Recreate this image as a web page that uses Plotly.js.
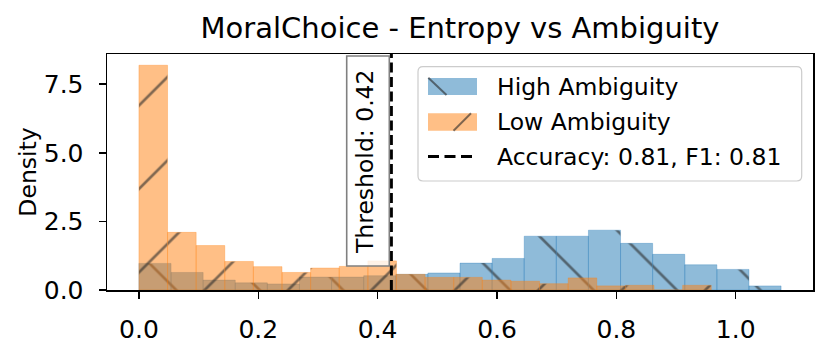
<!DOCTYPE html>
<html>
<head>
<meta charset="utf-8">
<script src="https://cdn.plot.ly/plotly-3.0.1.min.js"></script>
<style>
  html, body { margin: 0; padding: 0; background: #ffffff; }
  #chart { width: 831px; height: 349px; }
</style>
</head>
<body>
<div id="chart"></div>
<script>
// ---------- data ----------
const chartTitle = "MoralChoice - Entropy vs Ambiguity";
const yLabel = "Density";
const seriesNames = ["High Ambiguity", "Low Ambiguity"];
const accuracyLabel = "Accuracy: 0.81, F1: 0.81";
const thresholdLabel = "Threshold: 0.42";
const threshold = 0.423;

// High ambiguity histogram: 20 bins from 0 to 1.076
const highBinMin = 0.0;
const highBinMax = 1.076;
const highDensity = [0.97, 0.64, 0.36, 0.26, 0.22, 0.47, 0.47, 0.52, 0.57, 0.62,
                     0.98, 1.15, 1.96, 1.96, 2.18, 1.70, 1.30, 0.92, 0.75, 0.15];

// Low ambiguity histogram: 20 bins from 0 to 0.959
const lowBinMin = 0.0;
const lowBinMax = 0.959;
const lowDensity = [8.19, 2.10, 1.62, 1.04, 0.85, 0.64, 0.80, 0.86, 1.06, 0.57,
                    0.46, 0.46, 0.36, 0.32, 0.23, 0.44, 0.15, 0.17, 0.00, 0.17];

const xTicks = [0.0, 0.2, 0.4, 0.6, 0.8, 1.0];
const yTicks = [0.0, 2.5, 5.0, 7.5];

// ---------- helpers ----------
function binCenters(min, max, n) {
  const w = (max - min) / n;
  const c = [];
  for (let i = 0; i < n; i++) c.push(min + w * (i + 0.5));
  return { centers: c, width: w };
}
const hb = binCenters(highBinMin, highBinMax, highDensity.length);
const lb = binCenters(lowBinMin, lowBinMax, lowDensity.length);

const FONT = "DejaVu Sans";
const BLUE = "rgba(31,119,180,0.5)";
const ORANGE = "rgba(255,127,14,0.5)";

// pixel -> paper helpers for annotation/legend placement
const ML = 107, MR = 18, MT = 54, MB = 59, W = 831, H = 349;
const PW = W - ML - MR, PH = H - MT - MB;
const px = x => (x - ML) / PW;
const py = y => (H - MB - y) / PH;

const traces = [
  {
    type: "bar",
    x: hb.centers,
    y: highDensity,
    width: hb.width,
    name: seriesNames[0],
    marker: {
      color: BLUE,
      line: { color: BLUE, width: 0.6 },
      pattern: { shape: "\\", size: 59, solidity: 0.045, fgcolor: "#2b2b2b", fgopacity: 0.6, fillmode: "overlay" }
    },
    showlegend: false,
    hoverinfo: "skip"
  },
  {
    type: "bar",
    x: lb.centers,
    y: lowDensity,
    width: lb.width,
    name: seriesNames[1],
    marker: {
      color: ORANGE,
      line: { color: ORANGE, width: 0.6 },
      pattern: { shape: "/", size: 59, solidity: 0.045, fgcolor: "#2b2b2b", fgopacity: 0.6, fillmode: "overlay" }
    },
    showlegend: false,
    hoverinfo: "skip"
  }
];

function roundRect(x0, y0, x1, y1, r) {
  const rx = r / PW, ry = r / PH;
  const X0 = px(x0), X1 = px(x1), Y0 = py(y0), Y1 = py(y1);
  return `M${X0 + rx},${Y0} L${X1 - rx},${Y0} Q${X1},${Y0} ${X1},${Y0 - ry} ` +
         `L${X1},${Y1 + ry} Q${X1},${Y1} ${X1 - rx},${Y1} ` +
         `L${X0 + rx},${Y1} Q${X0},${Y1} ${X0},${Y1 + ry} ` +
         `L${X0},${Y0 - ry} Q${X0},${Y0} ${X0 + rx},${Y0} Z`;
}

const shapes = [
  { type: "line", xref: "x", yref: "paper", x0: threshold, x1: threshold, y0: 0, y1: 1,
    line: { color: "#000000", width: 3, dash: "10px,4.5px" }, layer: "above" },
  { type: "rect", xref: "paper", yref: "paper", x0: px(346.7), x1: px(389.3), y0: py(266), y1: py(56),
    fillcolor: "rgba(255,255,255,0.8)", line: { color: "#808080", width: 1.6 }, layer: "above" },
  { type: "path", xref: "paper", yref: "paper", path: roundRect(418, 66.7, 801.7, 181, 5),
    fillcolor: "rgba(255,255,255,0.8)", line: { color: "#cccccc", width: 1.2 }, layer: "above" },
  { type: "rect", xref: "paper", yref: "paper", x0: px(428), x1: px(477), y0: py(95), y1: py(78),
    fillcolor: BLUE, line: { width: 0 }, layer: "above" },
  { type: "line", xref: "paper", yref: "paper", x0: px(428.3), y0: py(77.8), x1: px(446.5), y1: py(95),
    line: { color: "rgba(40,40,40,0.6)", width: 2 }, layer: "above" },
  { type: "rect", xref: "paper", yref: "paper", x0: px(428), x1: px(477), y0: py(130.7), y1: py(113.3),
    fillcolor: ORANGE, line: { width: 0 }, layer: "above" },
  { type: "line", xref: "paper", yref: "paper", x0: px(453.5), y0: py(130.7), x1: px(471), y1: py(113.3),
    line: { color: "rgba(40,40,40,0.6)", width: 2 }, layer: "above" },
  { type: "line", xref: "paper", yref: "paper", x0: px(428), y0: py(156.5), x1: px(477), y1: py(156.5),
    line: { color: "#000000", width: 3, dash: "11px,5.5px" }, layer: "above" }
];

const legendFont = { family: FONT, size: 23.5, color: "#000000" };
const annotations = [
  { xref: "paper", yref: "paper", x: px(495), y: py(86.5), xanchor: "left", yanchor: "middle",
    text: seriesNames[0], showarrow: false, font: legendFont },
  { xref: "paper", yref: "paper", x: px(495), y: py(122), xanchor: "left", yanchor: "middle",
    text: seriesNames[1], showarrow: false, font: legendFont },
  { xref: "paper", yref: "paper", x: px(495), y: py(156.5), xanchor: "left", yanchor: "middle",
    text: accuracyLabel, showarrow: false, font: legendFont },
  { xref: "paper", yref: "paper", x: px(365), y: py(162), xanchor: "center", yanchor: "middle",
    text: thresholdLabel, textangle: -90, showarrow: false, font: { family: FONT, size: 23.5, color: "#000000" } }
];

const axisCommon = {
  showline: true, mirror: true, linecolor: "#000000", linewidth: 1.5,
  ticks: "outside", ticklen: 7, tickwidth: 1.5, tickcolor: "#000000",
  showgrid: false, zeroline: false,
  tickfont: { family: FONT, size: 25, color: "#000000" },
  tickformat: ".1f", tickmode: "array"
};

const layout = {
  width: W, height: H,
  margin: { l: ML, r: MR, t: MT, b: MB, pad: 0 },
  paper_bgcolor: "#ffffff", plot_bgcolor: "#ffffff",
  barmode: "overlay", bargap: 0,
  showlegend: false,
  title: { text: chartTitle, font: { family: FONT, size: 29, color: "#000000" },
           x: 0.5, xref: "paper", xanchor: "center", y: 1 - 27.5 / H, yref: "container", yanchor: "middle" },
  xaxis: Object.assign({}, axisCommon, { range: [-0.0535, 1.1295], tickvals: xTicks, ticklabelstandoff: 9 }),
  yaxis: Object.assign({}, axisCommon, { range: [0, 8.6], tickvals: yTicks, ticklabelstandoff: 10,
    title: { text: yLabel, font: { family: FONT, size: 23.5, color: "#000000" }, standoff: 0 } }),
  shapes: shapes,
  annotations: annotations,
  font: { family: FONT, color: "#000000" }
};

Plotly.newPlot("chart", traces, layout, { staticPlot: true, displayModeBar: false });
</script>
</body>
</html>
